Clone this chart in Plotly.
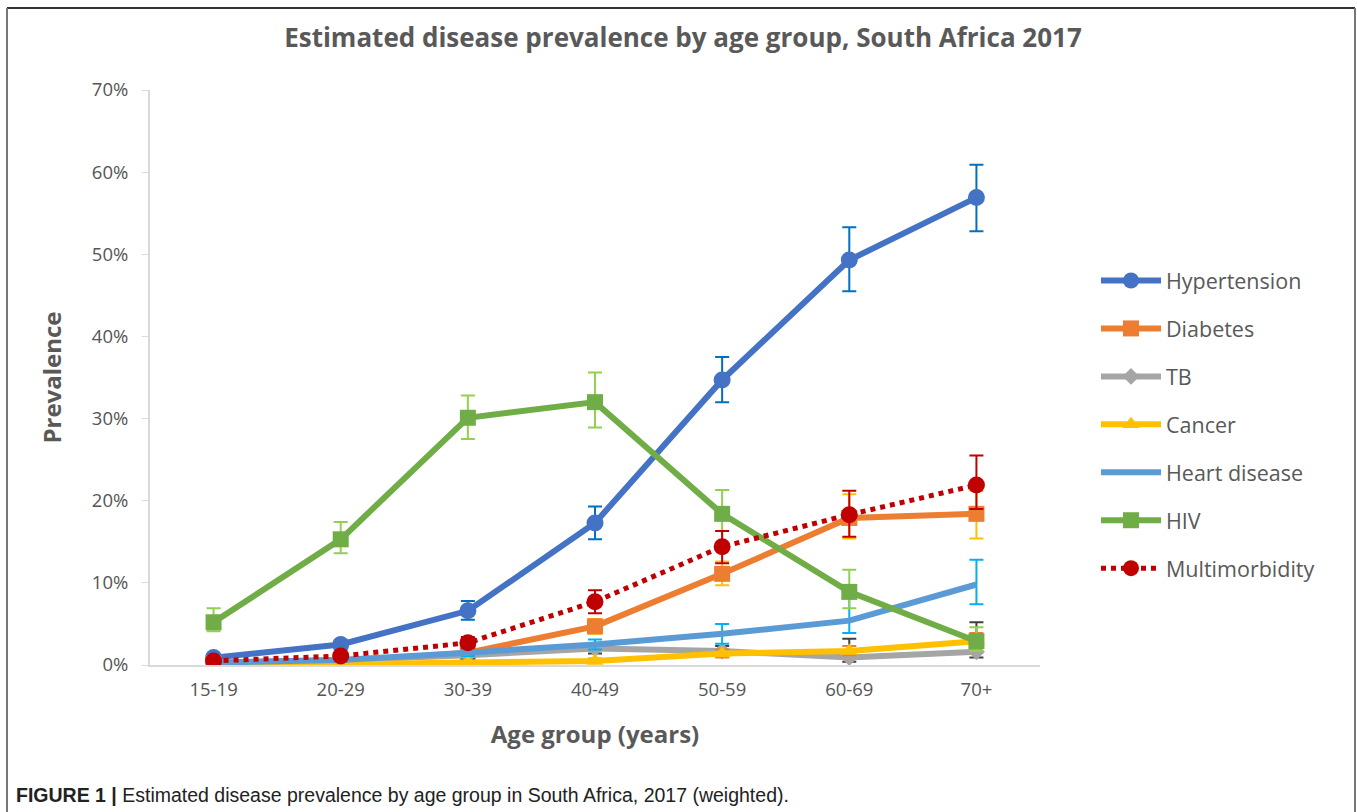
import plotly.graph_objects as go

categories = ["15-19", "20-29", "30-39", "40-49", "50-59", "60-69", "70+"]

hypertension = [0.9, 2.5, 6.6, 17.3, 34.7, 49.3, 56.9]
hypertension_hi = [1.3, 3.0, 7.8, 19.3, 37.5, 53.3, 60.9]
hypertension_lo = [0.6, 1.9, 5.5, 15.3, 32.0, 45.5, 52.8]

diabetes = [0.2, 0.4, 1.5, 4.7, 11.1, 17.9, 18.4]
diabetes_hi = [0.4, 0.7, 2.0, 5.6, 12.6, 20.8, 21.2]
diabetes_lo = [0.1, 0.2, 1.1, 3.8, 9.7, 15.4, 15.4]

tb = [0.3, 0.6, 1.2, 2.0, 1.7, 0.9, 1.6]
tb_hi = [0.5, 0.9, 1.6, 2.6, 2.3, 3.2, 5.2]
tb_lo = [0.1, 0.3, 0.8, 1.4, 1.2, 0.4, 0.9]

cancer = [0.1, 0.1, 0.3, 0.5, 1.4, 1.7, 2.9]
cancer_hi = [0.2, 0.2, 0.5, 0.8, 1.9, 2.3, 3.9]
cancer_lo = [0.0, 0.0, 0.1, 0.3, 0.9, 1.2, 2.1]

heart = [0.3, 0.6, 1.5, 2.5, 3.8, 5.4, 9.8]
heart_hi = [0.5, 0.9, 1.9, 3.1, 5.0, 8.4, 12.8]
heart_lo = [0.1, 0.4, 1.1, 1.9, 2.6, 3.9, 7.4]

hiv = [5.2, 15.3, 30.1, 32.0, 18.4, 8.9, 2.9]
hiv_hi = [6.9, 17.4, 32.8, 35.6, 21.3, 11.6, 4.6]
hiv_lo = [4.1, 13.6, 27.5, 28.9, 14.6, 6.9, 1.7]

multi = [0.5, 1.1, 2.7, 7.7, 14.4, 18.3, 21.9]
multi_hi = [0.8, 1.5, 3.4, 9.1, 16.3, 21.2, 25.5]
multi_lo = [0.3, 0.7, 2.1, 6.3, 12.4, 15.6, 19.0]

series = [
    ("Hypertension", hypertension, hypertension_hi, hypertension_lo, "#4472C4", "#0070C0", "circle", 17, "solid"),
    ("Diabetes", diabetes, diabetes_hi, diabetes_lo, "#ED7D31", "#FFC000", "square", 16, "solid"),
    ("TB", tb, tb_hi, tb_lo, "#A5A5A5", "#404040", "diamond", 13, "solid"),
    ("Cancer", cancer, cancer_hi, cancer_lo, "#FFC000", "#ED7D31", "triangle-up", 15, "solid"),
    ("Heart disease", heart, heart_hi, heart_lo, "#5B9BD5", "#00B0F0", None, 0, "solid"),
    ("HIV", hiv, hiv_hi, hiv_lo, "#70AD47", "#92D050", "square", 16, "solid"),
    ("Multimorbidity", multi, multi_hi, multi_lo, "#C00000", "#C00000", "circle", 17, "dot"),
]

W, H = 1357, 812
L, R, T, B = 150, 1040, 90, 665


def px(x):
    return (x - L) / (R - L)


def py(y):
    return (B - y) / (B - T)


fig = go.Figure()
for i, (name, vals, hi, lo, col, ecol, sym, msize, dash) in enumerate(series):
    yv = [v / 100 for v in vals]
    plus = [(h - v) / 100 for h, v in zip(hi, vals)]
    minus = [(v - l) / 100 for v, l in zip(vals, lo)]
    kw = dict(
        x=categories, y=yv, name=name, legendgroup=name,
        line=dict(color=col, width=6 if dash == "solid" else 5, dash=dash),
        error_y=dict(type="data", array=plus, arrayminus=minus, color=ecol,
                     thickness=2, width=7),
        hovertemplate="%{x}: %{y:.1%}<extra>" + name + "</extra>",
    )
    if sym:
        kw["mode"] = "lines+markers"
        kw["marker"] = dict(symbol=sym, size=msize, color=col)
    else:
        kw["mode"] = "lines"
    fig.add_trace(go.Scatter(**kw))

font_main = "Open Sans, Lato, sans-serif"

fig.update_layout(
    width=W, height=H,
    margin=dict(l=L, r=W - R, t=T, b=H - B, pad=0),
    paper_bgcolor="white", plot_bgcolor="white",
    font=dict(family=font_main, color="#595959"),
    title=dict(
        text="<b>Estimated disease prevalence by age group, South Africa 2017</b>",
        x=px(683), xref="paper", xanchor="center",
        y=1 - 38 / H, yanchor="middle",
        font=dict(size=26, color="#595959", family=font_main),
    ),
    xaxis=dict(
        type="category", range=[-0.5, 6.5],
        showline=True, linecolor="#D9D9D9", linewidth=2,
        showgrid=False, ticks="", zeroline=False,
        tickfont=dict(size=18.5, color="#555555"),
        ticklabelstandoff=7,
        title=dict(text="<b>Age group (years)</b>", standoff=26,
                   font=dict(size=24, color="#595959")),
    ),
    yaxis=dict(
        range=[0, 0.7], dtick=0.1, tickformat=".0%",
        showline=True, linecolor="#D9D9D9", linewidth=2,
        showgrid=False, zeroline=False,
        ticks="outside", ticklen=6, tickcolor="#D9D9D9", tickwidth=1,
        tickfont=dict(size=18.5, color="#555555"),
        ticklabelstandoff=10,
        title=dict(text="<b>Prevalence</b>", standoff=23,
                   font=dict(size=24, color="#595959")),
    ),
    legend=dict(
        x=px(1096), y=py(260), xanchor="left", yanchor="top",
        font=dict(size=21.5, color="#595959", family=font_main),
        traceorder="grouped", tracegroupgap=17,
        itemwidth=60, bgcolor="rgba(0,0,0,0)",
    ),
    showlegend=True,
)

# figure frame
fig.add_shape(type="line", xref="paper", yref="paper",
              x0=px(7), x1=px(1355), y0=py(8), y1=py(8),
              line=dict(color="#333333", width=2))
fig.add_shape(type="line", xref="paper", yref="paper",
              x0=px(7), x1=px(7), y0=py(8), y1=py(815),
              line=dict(color="#777777", width=2))
fig.add_shape(type="line", xref="paper", yref="paper",
              x0=px(1355), x1=px(1355), y0=py(8), y1=py(815),
              line=dict(color="#777777", width=2))

fig.add_annotation(
    xref="paper", yref="paper", x=px(14), y=py(795),
    xanchor="left", yanchor="middle", showarrow=False,
    text="<b>FIGURE 1 |</b> Estimated disease prevalence by age group in South Africa, 2017 (weighted).",
    font=dict(size=19.5, color="#222222", family="Liberation Sans Narrow, Arial Narrow, sans-serif"),
)

fig.write_html("out.html")
